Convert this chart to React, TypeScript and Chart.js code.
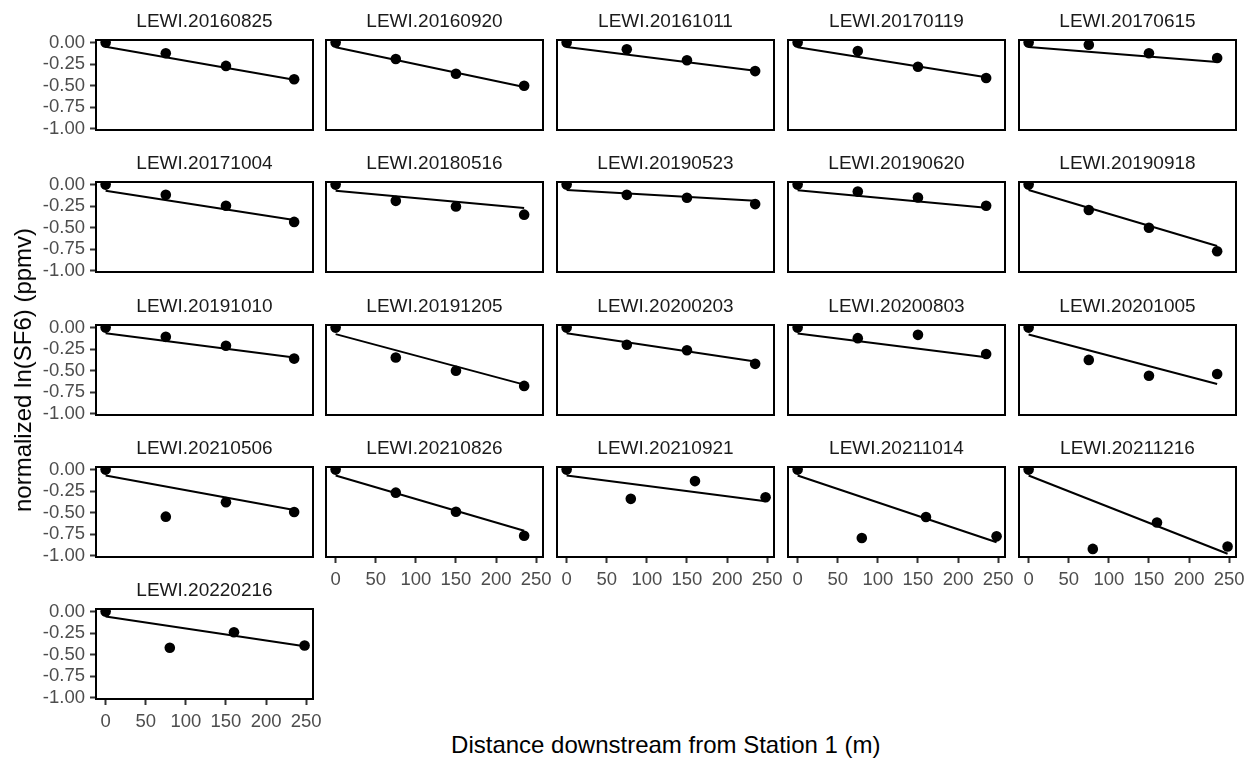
import { useEffect, useRef } from "react";
import { Chart, registerables } from "chart.js";

Chart.register(...registerables);

// ---- data -----------------------------------------------------------------

const siteDates = [
  "LEWI.20160825", "LEWI.20160920", "LEWI.20161011", "LEWI.20170119", "LEWI.20170615",
  "LEWI.20171004", "LEWI.20180516", "LEWI.20190523", "LEWI.20190620", "LEWI.20190918",
  "LEWI.20191010", "LEWI.20191205", "LEWI.20200203", "LEWI.20200803", "LEWI.20201005",
  "LEWI.20210506", "LEWI.20210826", "LEWI.20210921", "LEWI.20211014", "LEWI.20211216",
  "LEWI.20220216",
];

// station distances downstream (m)
const stationsA = [0, 75, 150, 235];
const stationsB = [0, 80, 160, 248];
const stationSet = [
  "A", "A", "A", "A", "A",
  "A", "A", "A", "A", "A",
  "A", "A", "A", "A", "A",
  "A", "A", "B", "B", "B",
  "B",
];

// normalized ln(SF6) at each station
const lnSF6 = [
  [0, -0.124, -0.27, -0.425],
  [0, -0.19, -0.36, -0.5],
  [0, -0.078, -0.205, -0.33],
  [0, -0.097, -0.28, -0.41],
  [0, -0.024, -0.124, -0.178],
  [0, -0.119, -0.245, -0.432],
  [0, -0.188, -0.253, -0.348],
  [0, -0.119, -0.153, -0.226],
  [0, -0.081, -0.15, -0.245],
  [0, -0.294, -0.5, -0.772],
  [0, -0.107, -0.21, -0.359],
  [0, -0.347, -0.5, -0.675],
  [0, -0.198, -0.263, -0.42],
  [0, -0.122, -0.084, -0.305],
  [0, -0.374, -0.557, -0.538],
  [0, -0.545, -0.377, -0.491],
  [0, -0.267, -0.488, -0.766],
  [0, -0.339, -0.133, -0.32],
  [0, -0.792, -0.549, -0.773],
  [0, -0.918, -0.613, -0.891],
  [0, -0.418, -0.24, -0.392],
];

// fitted decay line: value at the first and at the last station
const fitStart = [
  -0.047, -0.054, -0.05, -0.054, -0.05,
  -0.07, -0.07, -0.062, -0.065, -0.062,
  -0.065, -0.076, -0.065, -0.068, -0.08,
  -0.069, -0.069, -0.069, -0.069, -0.069,
  -0.057,
];
const fitEnd = [
  -0.43, -0.515, -0.325, -0.4, -0.225,
  -0.409, -0.271, -0.188, -0.268, -0.711,
  -0.347, -0.66, -0.393, -0.343, -0.653,
  -0.469, -0.709, -0.366, -0.842, -0.975,
  -0.4,
];

const xTickValues = [0, 50, 100, 150, 200, 250];
const yTickValues = [0, -0.25, -0.5, -0.75, -1];

const xTitle = "Distance downstream from Station 1 (m)";
const yTitle = "normalized ln(SF6) (ppmv)";

// ---- layout ---------------------------------------------------------------

const NCOL = 5;
const NROW = 5;
const LEFT0 = 95.5;
const COL_STEP = 230.9;
const TOP0 = 39.7;
const ROW_STEP = 142.4;
const PANEL_W = 217;
const PANEL_H = 90;
const PAD_L = 90;
const PAD_T = 30;
const PAD_R = 20;
const PAD_B = 45;

const FONT = "'Liberation Sans', Arial, Helvetica, sans-serif";

Chart.defaults.font.family = FONT;

const panelFrame = {
  id: "panelFrame",
  afterDatasetsDraw(chart: any) {
    const { ctx, chartArea: a } = chart;
    ctx.save();
    ctx.strokeStyle = "#000000";
    ctx.lineWidth = 2;
    ctx.strokeRect(a.left, a.top, a.right - a.left, a.bottom - a.top);
    ctx.restore();
  },
  afterDraw(chart: any, _args: any, opts: any) {
    const { ctx, chartArea: a } = chart;
    ctx.save();
    ctx.fillStyle = "#1a1a1a";
    ctx.font = `19px ${FONT}`;
    ctx.textAlign = "center";
    ctx.textBaseline = "alphabetic";
    ctx.fillText(opts.title, (a.left + a.right) / 2, a.top - 13);
    ctx.restore();
  },
};

function Panel({ index }: { index: number }) {
  const ref = useRef<HTMLCanvasElement | null>(null);
  const col = index % NCOL;
  const row = Math.floor(index / NCOL);
  const left = Math.round(LEFT0 + col * COL_STEP);
  const top = Math.round(TOP0 + row * ROW_STEP);
  const showY = col === 0;
  const lastRowForCol = Math.floor((siteDates.length - 1 - col) / NCOL);
  const showX = row === lastRowForCol;

  useEffect(() => {
    if (!ref.current) return;
    const xs = stationSet[index] === "A" ? stationsA : stationsB;
    const pts = xs.map((x, i) => ({ x, y: lnSF6[index][i] }));
    const fit = [
      { x: xs[0], y: fitStart[index] },
      { x: xs[xs.length - 1], y: fitEnd[index] },
    ];

    const chart = new Chart(ref.current, {
      type: "scatter",
      data: {
        datasets: [
          {
            type: "scatter",
            data: pts,
            pointRadius: 5.3,
            pointBackgroundColor: "#000000",
            pointBorderWidth: 0,
            clip: 0,
            order: 0,
          } as any,
          {
            type: "line",
            data: fit,
            borderColor: "#000000",
            borderWidth: 2,
            pointRadius: 0,
            fill: false,
            tension: 0,
            clip: 0,
            order: 1,
          } as any,
        ],
      },
      options: {
        responsive: false,
        animation: false,
        devicePixelRatio: 1,
        events: [],
        layout: { padding: { left: 0, top: PAD_T, right: PAD_R, bottom: 0 } },
        plugins: {
          legend: { display: false },
          tooltip: { enabled: false },
          title: { display: false },
          panelFrame: { title: siteDates[index] },
        } as any,
        scales: {
          x: {
            type: "linear",
            min: -12,
            max: 258.5,
            afterFit: (s: any) => {
              s.height = PAD_B;
            },
            afterBuildTicks: (s: any) => {
              s.ticks = xTickValues.map((v) => ({ value: v }));
            },
            border: { display: false },
            grid: {
              display: showX,
              drawOnChartArea: false,
              drawTicks: true,
              tickLength: 6,
              tickWidth: 2,
              tickColor: "#333333",
            },
            ticks: {
              display: showX,
              autoSkip: false,
              maxRotation: 0,
              padding: 6,
              color: "#4d4d4d",
              font: { size: 18.5, family: FONT },
              callback: (v: any) => String(v),
            },
          },
          y: {
            type: "linear",
            min: -1.012,
            max: 0.03,
            afterFit: (s: any) => {
              s.width = PAD_L;
            },
            afterBuildTicks: (s: any) => {
              s.ticks = yTickValues.map((v) => ({ value: v }));
            },
            border: { display: false },
            grid: {
              display: showY,
              drawOnChartArea: false,
              drawTicks: true,
              tickLength: 6,
              tickWidth: 2,
              tickColor: "#333333",
            },
            ticks: {
              display: showY,
              autoSkip: false,
              padding: 5,
              color: "#4d4d4d",
              font: { size: 18.5, family: FONT },
              callback: (v: any) => Number(v).toFixed(2),
            },
          },
        },
      },
      plugins: [panelFrame as any],
    });
    return () => chart.destroy();
  }, [index]);

  return (
    <canvas
      ref={ref}
      width={PAD_L + PANEL_W + PAD_R}
      height={PAD_T + PANEL_H + PAD_B}
      style={{
        position: "absolute",
        left: left - PAD_L,
        top: top - PAD_T,
        width: PAD_L + PANEL_W + PAD_R,
        height: PAD_T + PANEL_H + PAD_B,
        display: "block",
      }}
    />
  );
}

export default function App() {
  const panelsBottom = TOP0 + (NROW - 1) * ROW_STEP + PANEL_H;
  const panelsCenterX = (LEFT0 + LEFT0 + (NCOL - 1) * COL_STEP + PANEL_W) / 2;
  const panelsCenterY = (TOP0 + panelsBottom) / 2;
  return (
    <div
      style={{
        position: "absolute",
        left: 0,
        top: 0,
        width: 1249,
        height: 759,
        background: "#ffffff",
        overflow: "hidden",
        fontFamily: FONT,
      }}
    >
      {siteDates.map((_, i) => (
        <Panel key={i} index={i} />
      ))}
      <div
        style={{
          position: "absolute",
          left: panelsCenterX,
          top: 745,
          transform: "translate(-50%, -50%)",
          fontSize: 24,
          lineHeight: 1,
          color: "#000000",
          whiteSpace: "nowrap",
        }}
      >
        {xTitle}
      </div>
      <div
        style={{
          position: "absolute",
          left: 23,
          top: panelsCenterY,
          transform: "translate(-50%, -50%) rotate(-90deg)",
          fontSize: 24,
          lineHeight: 1,
          color: "#000000",
          whiteSpace: "nowrap",
        }}
      >
        {yTitle}
      </div>
    </div>
  );
}
